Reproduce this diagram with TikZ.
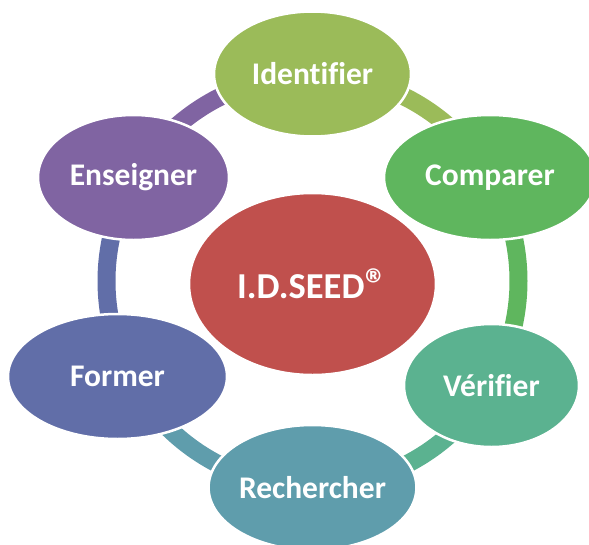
\documentclass[tikz,border=0pt]{standalone}
\usepackage{fontspec}
\setmainfont{Carlito}[Ligatures=NoCommon]
\usetikzlibrary{shapes.geometric}
\definecolor{cIdent}{HTML}{9BBB59}
\definecolor{cComp}{HTML}{5FB65E}
\definecolor{cVerif}{HTML}{5BB290}
\definecolor{cRech}{HTML}{5F9DAC}
\definecolor{cForm}{HTML}{616EA8}
\definecolor{cEns}{HTML}{8064A2}
\definecolor{cSeed}{HTML}{C0504D}
\tikzset{
  bubble/.style={ellipse, inner sep=0pt, draw=white, line width=2.5pt,
    text=white, font=\fontsize{31.5}{36}\selectfont\bfseries},
  seg/.style={line width=18pt, line cap=butt},
}
\begin{document}
\begin{tikzpicture}[x=1pt, y=-1pt]
\useasboundingbox (0,0) rectangle (589,544);
\coordinate (ring) at (312.5,281);
% ring segments (drawn beneath the bubbles)
\draw[seg, cIdent] (ring) ++(-90:206) arc[start angle=-90, end angle=-30, radius=206];
\draw[seg, cComp]  (ring) ++(-30:206) arc[start angle=-30, end angle=30, radius=206];
\draw[seg, cVerif] (ring) ++(30:206)  arc[start angle=30, end angle=90, radius=206];
\draw[seg, cRech]  (ring) ++(90:206)  arc[start angle=90, end angle=150, radius=206];
\draw[seg, cForm]  (ring) ++(150:206) arc[start angle=150, end angle=210, radius=206];
\draw[seg, cEns]   (ring) ++(210:206) arc[start angle=210, end angle=270, radius=206];
% bubbles
\node[bubble, fill=cIdent, minimum width=197pt, minimum height=125pt] (ident) at (312.5,74) {Identifier};
\node[bubble, fill=cComp,  minimum width=212pt, minimum height=125pt] (comp)  at (490,177.5) {Comparer};
\node[bubble, fill=cVerif, minimum width=175pt, minimum height=123pt] (verif) at (491.5,385.5) {Vérifier};
\node[bubble, fill=cRech,  minimum width=199pt, minimum height=125pt] (rech)  at (312.5,487.5) {Rechercher};
\node[bubble, fill=cForm,  minimum width=219pt, minimum height=125pt] (form)  at (117.5,376.5) {Former};
\node[bubble, fill=cEns,   minimum width=191pt, minimum height=125pt] (ens)   at (133.5,177.5) {Enseigner};
\node[bubble, fill=cSeed,  minimum width=247pt, minimum height=182pt,
  font=\fontsize{36.5}{40}\selectfont\bfseries] (seed) at (312.5,284) {I.D.SEED\kern1pt\raisebox{-0.05ex}{\fontsize{44}{44}\selectfont ®}};
\end{tikzpicture}
\end{document}
